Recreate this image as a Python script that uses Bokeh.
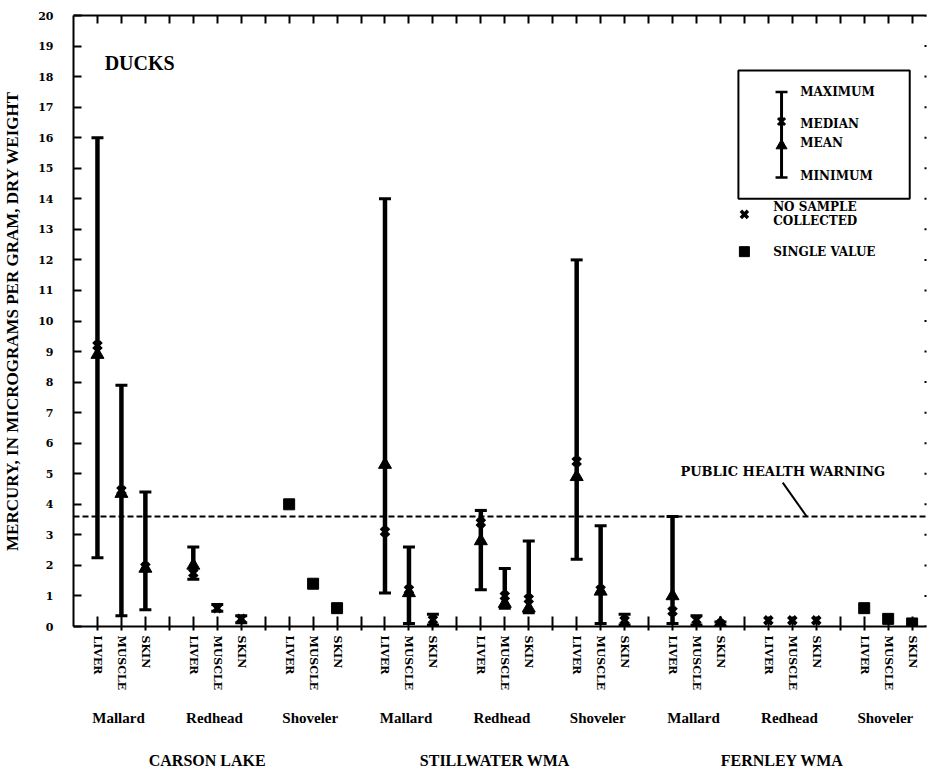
import math
from bokeh.plotting import figure
from bokeh.models import Range1d, LinearAxis, FixedTicker, Span, Label
from bokeh.embed import file_html
from bokeh.resources import INLINE

# --- data: mercury in ducks, micrograms per gram dry weight ---
sites = ["CARSON LAKE", "STILLWATER WMA", "FERNLEY WMA"]
species = ["Mallard", "Redhead", "Shoveler"]
tissues = ["LIVER", "MUSCLE", "SKIN"]

# samples with a range (group = site*3 + species, tissue index)
rng_group = [0, 0, 0, 1, 1, 1, 3, 3, 3, 4, 4, 4, 5, 5, 5, 6, 6, 6]
rng_tissue = [0, 1, 2, 0, 1, 2, 0, 1, 2, 0, 1, 2, 0, 1, 2, 0, 1, 2]
rng_min = [2.25, 0.35, 0.55, 1.55, 0.5, 0.12, 1.1, 0.1, 0.05, 1.2, 0.6, 0.45, 2.2, 0.1, 0.05, 0.1, 0.05, 0.02]
rng_max = [16.0, 7.9, 4.4, 2.6, 0.72, 0.35, 14.0, 2.6, 0.4, 3.8, 1.9, 2.8, 12.0, 3.3, 0.4, 3.6, 0.35, 0.15]
rng_median = [9.2, 4.45, 1.95, 1.75, 0.6, 0.25, 3.1, 1.2, 0.22, 3.4, 1.0, 0.9, 5.4, 1.2, 0.2, 0.5, 0.22, 0.08]
rng_mean = [8.9, 4.35, 1.9, 2.0, float("nan"), float("nan"), 5.3, 1.1, float("nan"), 2.8, 0.75, 0.6,
            4.9, 1.15, float("nan"), 1.0, float("nan"), 0.1]

# samples with a single value
single_group = [2, 2, 2, 8, 8, 8]
single_tissue = [0, 1, 2, 0, 1, 2]
single_value = [4.0, 1.4, 0.6, 0.6, 0.25, 0.1]

# no sample collected
none_group = [7, 7, 7]
none_tissue = [0, 1, 2]

warning_level = 3.6
y_ticks = list(range(0, 21))

FONT = "DejaVu Serif"
FONT_N = "Liberation Serif"
INK = "black"
X_END = 35.6


def xpos(g, t):
    return 1 + 4 * g + t


def label_axis(ticks, names, standoff, size):
    ax = LinearAxis(ticker=FixedTicker(ticks=ticks),
                    major_label_overrides={t: n for t, n in zip(ticks, names)})
    ax.axis_line_color = None
    ax.major_tick_line_color = None
    ax.minor_tick_line_color = None
    ax.major_tick_in = 0
    ax.major_tick_out = 0
    ax.major_label_standoff = standoff
    ax.major_label_text_font = FONT_N
    ax.major_label_text_font_style = "bold"
    ax.major_label_text_font_size = size
    ax.major_label_text_color = INK
    return ax


p = figure(width=929, height=773, x_range=Range1d(0, X_END), y_range=Range1d(0, 20),
           x_axis_type=None, y_axis_type=None, output_backend="svg", toolbar_location=None,
           min_border_left=72, min_border_right=3, min_border_top=15, min_border_bottom=147,
           background_fill_color="white", border_fill_color="white")
p.outline_line_color = None

# left axis
yaxis = LinearAxis(ticker=FixedTicker(ticks=y_ticks),
                   axis_label="MERCURY, IN MICROGRAMS PER GRAM, DRY WEIGHT")
yaxis.axis_line_width = 2
yaxis.axis_line_color = INK
yaxis.major_tick_in = 8
yaxis.major_tick_out = 0
yaxis.major_tick_line_width = 2
yaxis.major_tick_line_color = INK
yaxis.minor_tick_line_color = None
yaxis.major_label_standoff = 20
yaxis.major_label_text_font = FONT
yaxis.major_label_text_font_style = "bold"
yaxis.major_label_text_font_size = "11px"
yaxis.major_label_text_color = INK
yaxis.axis_label_text_font = FONT_N
yaxis.axis_label_text_font_style = "bold"
yaxis.axis_label_text_font_size = "17px"
yaxis.axis_label_text_color = INK
yaxis.axis_label_standoff = 13
p.add_layout(yaxis, "left")

# right edge: small tick dots at each integer
p.rect(x=[X_END] * len(y_ticks), y=y_ticks, width=4, height=2, width_units="screen",
       height_units="screen", fill_color=INK, line_color=None)

# category positions along the bottom
x_ticks = list(range(1, 36))
overrides = {}
for k in x_ticks:
    overrides[k] = "" if k % 4 == 0 else tissues[(k - 1) % 4]

xaxis = LinearAxis(ticker=FixedTicker(ticks=x_ticks), major_label_overrides=overrides)
xaxis.axis_line_width = 2
xaxis.axis_line_color = INK
xaxis.major_tick_in = 10
xaxis.major_tick_out = 4
xaxis.major_tick_line_width = 2
xaxis.major_tick_line_color = INK
xaxis.minor_tick_line_color = None
xaxis.major_label_orientation = "vertical"
xaxis.major_label_standoff = 5
xaxis.major_label_text_font = FONT
xaxis.major_label_text_font_style = "bold"
xaxis.major_label_text_font_size = "11px"
xaxis.major_label_text_color = INK
p.add_layout(xaxis, "below")

# species names, one row below the tissue names (kept inside the canvas at the right end)
sp_ticks = [min(xpos(g, 1) - 0.12, X_END - 1.3) for g in range(9)]
p.add_layout(label_axis(sp_ticks, [species[g % 3] for g in range(9)], 16, "15px"), "below")

# site names, bottom row
site_ticks = [xpos(s * 3 + 1, 1) - 0.42 for s in range(3)]
p.add_layout(label_axis(site_ticks, sites, 23, "16px"), "below")

# top frame line with inward ticks
taxis = LinearAxis(ticker=FixedTicker(ticks=x_ticks),
                   major_label_overrides={k: "" for k in x_ticks})
taxis.axis_line_width = 2
taxis.axis_line_color = INK
taxis.major_tick_in = 8
taxis.major_tick_out = 0
taxis.major_tick_line_width = 2
taxis.major_tick_line_color = INK
taxis.minor_tick_line_color = None
taxis.major_label_standoff = 0
p.add_layout(taxis, "above")

# public health warning level
p.add_layout(Span(location=warning_level, dimension="width", line_color=INK,
                  line_width=2, line_dash="6 3"))

# range bars
rx = [xpos(g, t) for g, t in zip(rng_group, rng_tissue)]
p.segment(x0=rx, y0=rng_min, x1=rx, y1=rng_max, line_color=INK, line_width=4.5)
cap = 0.25
p.segment(x0=[x - cap for x in rx], y0=rng_max, x1=[x + cap for x in rx], y1=rng_max,
          line_color=INK, line_width=3)
p.segment(x0=[x - cap for x in rx], y0=rng_min, x1=[x + cap for x in rx], y1=rng_min,
          line_color=INK, line_width=3)
p.scatter(x=rx, y=rng_mean, marker="triangle", size=13, fill_color=INK, line_color=INK)
p.scatter(x=rx, y=rng_median, marker="x", size=11, line_color=INK, line_width=4)

# single values
sx = [xpos(g, t) for g, t in zip(single_group, single_tissue)]
p.scatter(x=sx, y=single_value, marker="square", size=11, fill_color=INK, line_color=INK)

# no sample collected
nx = [xpos(g, t) for g, t in zip(none_group, none_tissue)]
p.scatter(x=nx, y=[0.2] * len(nx), marker="x", size=11, line_color=INK, line_width=4)

# title inside the plot
p.add_layout(Label(x=1.3, y=18.46, text="DUCKS", text_font=FONT_N, text_font_style="bold",
                   text_font_size="20px", text_baseline="middle", text_color=INK))

# warning annotation
p.add_layout(Label(x=25.33, y=5.07, text="PUBLIC HEALTH WARNING", text_font=FONT,
                   text_font_style="bold", text_font_size="13px", text_baseline="middle",
                   text_color=INK))
p.segment(x0=[29.6], y0=[4.71], x1=[30.6], y1=[warning_level], line_color=INK, line_width=2)

# key box
p.quad(left=[27.75], right=[34.9], top=[18.2], bottom=[14.0], fill_color=None,
       line_color=INK, line_width=2)
kx = 29.55
p.segment(x0=[kx], y0=[14.7], x1=[kx], y1=[17.5], line_color=INK, line_width=3)
p.segment(x0=[kx - cap, kx - cap], y0=[17.5, 14.7], x1=[kx + cap, kx + cap], y1=[17.5, 14.7],
          line_color=INK, line_width=2.5)
p.scatter(x=[kx], y=[16.53], marker="x", size=10, line_color=INK, line_width=3)
p.scatter(x=[kx], y=[15.74], marker="triangle", size=11, fill_color=INK, line_color=INK)
for txt, yy in [("MAXIMUM", 17.5), ("MEDIAN", 16.46), ("MEAN", 15.84), ("MINIMUM", 14.73)]:
    p.add_layout(Label(x=30.33, y=yy, text=txt, text_font=FONT, text_font_style="bold",
                       text_font_size="12px", text_baseline="middle", text_color=INK))
p.scatter(x=[28.0], y=[13.49], marker="x", size=10, line_color=INK, line_width=3.5)
p.scatter(x=[28.0], y=[12.27], marker="square", size=10, fill_color=INK, line_color=INK)
for txt, yy in [("NO SAMPLE", 13.72), ("COLLECTED", 13.26), ("SINGLE VALUE", 12.27)]:
    p.add_layout(Label(x=29.2, y=yy, text=txt, text_font=FONT, text_font_style="bold",
                       text_font_size="12px", text_baseline="middle", text_color=INK))

open("out.html", "w").write(file_html(p, INLINE))
